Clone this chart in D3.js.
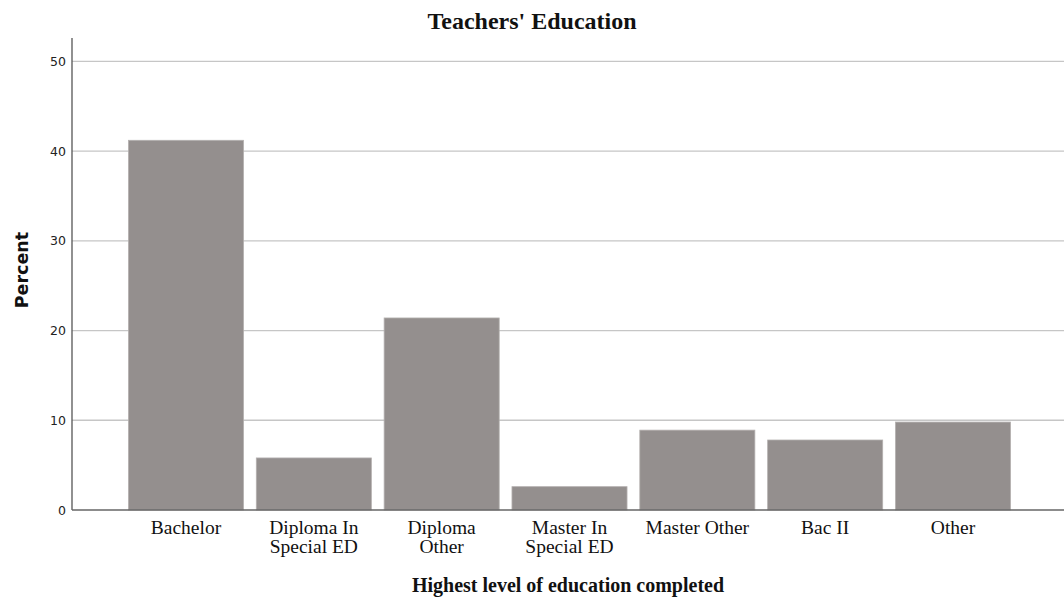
<!DOCTYPE html>
<html>
<head>
<meta charset="utf-8">
<script src="https://cdn.jsdelivr.net/npm/d3@7"></script>
<style>
  body { margin: 0; background: #fff; }
  svg { display: block; }
</style>
</head>
<body>
<div id="chart"></div>
<script>
'use strict'

// data
const categories = [
    ['Bachelor'],
    ['Diploma In', 'Special ED'],
    ['Diploma', 'Other'],
    ['Master In', 'Special ED'],
    ['Master Other'],
    ['Bac II'],
    ['Other']
]
const percents = [41.2, 5.8, 21.4, 2.6, 8.9, 7.8, 9.8]
const yTicks = [0, 10, 20, 30, 40, 50]

const data = categories.map((c, i) => ({ key: c.join(' '), lines: c, value: percents[i] }))

// svg setup
const svgWidth = 1064
const svgHeight = 599
const margin = { left: 72, right: 0, top: 38, bottom: 89 }
const width = svgWidth - margin.left - margin.right
const height = svgHeight - margin.top - margin.bottom

const svg = d3.select('#chart')
    .append('svg')
    .attr('width', svgWidth)
    .attr('height', svgHeight)

const g = svg.append('g')
    .attr('transform', `translate(${margin.left},${margin.top})`)

// scales
const xScale = d3.scaleBand()
    .domain(data.map(d => d.key))
    .range([1.5, width + 1.5])
    .paddingInner(0.1)
    .paddingOuter(0.43)

const yScale = d3.scaleLinear()
    .domain([0, 52.6])
    .range([height, 0])

// gridlines
g.selectAll('.grid')
    .data(yTicks.filter(t => t > 0))
    .join('line')
    .attr('class', 'grid')
    .attr('x1', 0)
    .attr('x2', width)
    .attr('y1', d => yScale(d))
    .attr('y2', d => yScale(d))
    .attr('stroke', '#c6c6c6')
    .attr('stroke-width', 1.3)

// bars
g.selectAll('.bar')
    .data(data)
    .join('rect')
    .attr('class', 'bar')
    .attr('x', d => xScale(d.key))
    .attr('y', d => yScale(d.value))
    .attr('width', xScale.bandwidth())
    .attr('height', d => yScale(0) - yScale(d.value))
    .attr('fill', '#948f8e')
    .attr('stroke', '#b4b0af')
    .attr('stroke-width', 0.8)

// y axis
const yAxis = g.append('g')
    .call(d3.axisLeft(yScale).tickValues(yTicks).tickSize(0).tickPadding(6))
yAxis.select('.domain').remove()
yAxis.selectAll('text')
    .attr('font-family', 'DejaVu Sans, sans-serif')
    .attr('font-size', 12.5)
    .attr('fill', '#222')

g.append('line')
    .attr('x1', 0).attr('x2', 0)
    .attr('y1', 0).attr('y2', height)
    .attr('stroke', '#555')
    .attr('stroke-width', 1.3)

// x axis
g.append('line')
    .attr('x1', 0).attr('x2', width)
    .attr('y1', height).attr('y2', height)
    .attr('stroke', '#666')
    .attr('stroke-width', 1.3)

const xLabels = g.selectAll('.xlabel')
    .data(data)
    .join('text')
    .attr('class', 'xlabel')
    .attr('x', d => xScale(d.key) + xScale.bandwidth() / 2)
    .attr('y', height + 24)
    .attr('text-anchor', 'middle')
    .attr('font-family', 'Liberation Serif, Times New Roman, serif')
    .attr('font-size', 19.5)
    .attr('fill', '#111')

xLabels.selectAll('tspan')
    .data(d => d.lines)
    .join('tspan')
    .attr('x', function () { return d3.select(this.parentNode).attr('x') })
    .attr('dy', (d, i) => i === 0 ? 0 : 19)
    .text(d => d)

// titles
svg.append('text')
    .attr('x', svgWidth / 2)
    .attr('y', 29)
    .attr('text-anchor', 'middle')
    .attr('font-family', 'Liberation Serif, Times New Roman, serif')
    .attr('font-weight', 'bold')
    .attr('font-size', 24)
    .attr('fill', '#111')
    .text("Teachers' Education")

svg.append('text')
    .attr('x', margin.left + width / 2)
    .attr('y', 592)
    .attr('text-anchor', 'middle')
    .attr('font-family', 'Liberation Serif, Times New Roman, serif')
    .attr('font-weight', 'bold')
    .attr('font-size', 20)
    .attr('fill', '#111')
    .text('Highest level of education completed')

svg.append('text')
    .attr('transform', 'translate(28,270) rotate(-90)')
    .attr('text-anchor', 'middle')
    .attr('font-family', 'DejaVu Sans, sans-serif')
    .attr('font-weight', 'bold')
    .attr('font-size', 17.5)
    .attr('fill', '#111')
    .text('Percent')
</script>
</body>
</html>
